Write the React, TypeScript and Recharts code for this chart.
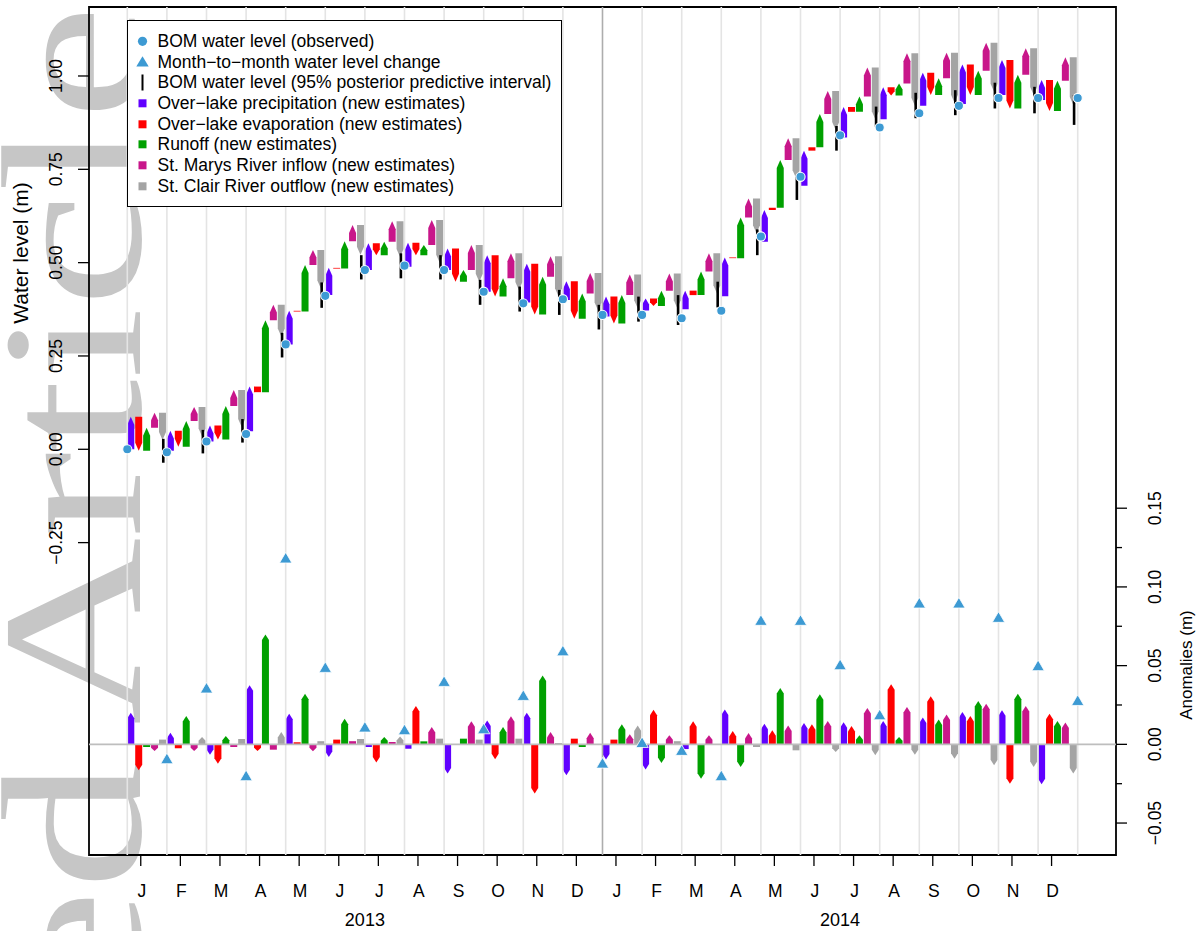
import React from "react";
import {
  Bar,
  ComposedChart,
  ReferenceArea,
  ReferenceLine,
  Scatter,
  XAxis,
  YAxis,
} from "recharts";

const FONT = '"Liberation Sans", Arial, Helvetica, sans-serif';

const monthLetters = ["J", "F", "M", "A", "M", "J", "J", "A", "S", "O", "N", "D", "J", "F", "M", "A", "M", "J", "J", "A", "S", "O", "N", "D"];
const yearLabels = ["2013", "2014"];
const leftTicks = [-0.25, 0, 0.25, 0.5, 0.75, 1];
const rightTicks = [-0.05, -0.025, 0, 0.025, 0.05, 0.075, 0.1, 0.125, 0.15];

// BOM observed water level at the start of each month, Jan 2013 .. Jan 2015 (m)
const observedLevel = [0.0, -0.008, 0.021, 0.041, 0.281, 0.411, 0.48, 0.492, 0.48, 0.422, 0.391, 0.402, 0.36, 0.36, 0.351, 0.371, 0.57, 0.73, 0.841, 0.862, 0.9, 0.92, 0.941, 0.941, 0.941];
// level each month's water balance starts from
const chainStart = [0.0, -0.004, 0.021, 0.048, 0.281, 0.413, 0.48, 0.489, 0.48, 0.422, 0.393, 0.4, 0.356, 0.372, 0.375, 0.41, 0.556, 0.706, 0.835, 0.884, 0.92, 0.925, 0.949, 0.936];

// monthly contributions to the lake level (m)
const precipitation = [0.087, 0.054, 0.043, 0.12, 0.09, 0.073, 0.072, 0.064, 0.058, 0.098, 0.104, 0.05, 0.053, 0.032, 0.05, 0.104, 0.085, 0.094, 0.082, 0.086, 0.089, 0.106, 0.094, 0.053];
const evaporation = [-0.091, -0.043, -0.038, -0.015, -0.002, -0.002, -0.032, -0.033, -0.089, -0.111, -0.136, -0.1, -0.072, -0.02, -0.012, -0.002, 0.006, 0.009, -0.013, -0.022, -0.06, -0.082, -0.13, -0.083];
const runoff = [0.062, 0.069, 0.09, 0.193, 0.125, 0.073, 0.036, 0.027, 0.031, 0.049, 0.101, 0.067, 0.076, 0.041, 0.063, 0.109, 0.128, 0.089, 0.041, 0.032, 0.045, 0.065, 0.09, 0.081];
const stMarysInflow = [0.04, 0.037, 0.043, 0.041, 0.04, 0.044, 0.055, 0.067, 0.067, 0.067, 0.055, 0.055, 0.055, 0.046, 0.049, 0.051, 0.058, 0.062, 0.078, 0.081, 0.068, 0.075, 0.071, 0.063];
const stClairOutflow = [-0.073, -0.079, -0.099, -0.085, -0.103, -0.08, -0.096, -0.114, -0.098, -0.098, -0.107, -0.1, -0.09, -0.093, -0.107, -0.093, -0.107, -0.105, -0.139, -0.141, -0.134, -0.131, -0.125, -0.128];

// 95% posterior predictive interval of the end-of-month level
const intervalLow = [-0.036, -0.011, 0.018, 0.246, 0.379, 0.455, 0.458, 0.455, 0.387, 0.369, 0.36, 0.321, 0.342, 0.333, 0.38, 0.52, 0.668, 0.8, 0.864, 0.887, 0.895, 0.913, 0.9, 0.869];
const intervalHigh = [0.028, 0.052, 0.081, 0.312, 0.447, 0.52, 0.525, 0.52, 0.454, 0.436, 0.427, 0.387, 0.409, 0.413, 0.449, 0.589, 0.73, 0.866, 0.918, 0.955, 0.962, 0.982, 0.971, 0.949];

// anomalies (m)
const anomPrecipitation = [0.02, 0.0074, -0.0066, 0.0375, 0.0195, -0.008, -0.0017, -0.0028, -0.0186, 0.0152, 0.02, -0.0197, -0.0097, -0.016, -0.003, 0.0222, 0.0131, 0.0136, 0.014, 0.0148, 0.017, 0.0205, 0.0216, -0.0254];
const anomEvaporation = [-0.0165, -0.0025, -0.0123, -0.0042, 0.0013, 0.003, -0.0116, 0.0244, 0, -0.0095, -0.0313, 0.0036, 0.003, 0.022, 0.0146, 0.0085, 0.0089, 0.0127, 0.0116, 0.0381, 0.0305, 0.018, -0.025, 0.0195];
const anomRunoff = [-0.0017, 0.018, 0.0053, 0.0697, 0.0322, 0.0163, 0.0047, 0.0019, 0.0036, 0.011, 0.0438, -0.0017, 0.0127, -0.0119, -0.0218, -0.0144, 0.0358, 0.0318, 0.0057, 0.0047, 0.0157, 0.0275, 0.0322, 0.0148];
const anomInflow = [-0.0042, -0.0042, -0.0017, -0.0034, -0.0044, 0.002, 0.0015, 0.011, 0.0146, 0.0178, 0.0078, 0.0074, 0.0064, 0.0057, 0.0057, 0.0072, 0.012, 0.0148, 0.0231, 0.0237, 0.019, 0.0258, 0.0244, 0.0138];
const anomOutflow = [0.003, 0.0047, 0.0034, 0.0078, 0.002, 0.0034, 0.005, 0.0036, 0.003, 0.0036, 0.0008, 0, 0.012, 0.002, 0, -0.0017, -0.0038, -0.0049, -0.007, -0.0066, -0.0091, -0.0133, -0.0144, -0.0186];
// month-to-month water level change, at the end of each month
const levelChange = [-0.0095, 0.0354, -0.0203, 0.118, 0.0485, 0.0106, 0.0089, 0.0396, 0.0095, 0.0307, 0.059, -0.0123, 0.0008, -0.0042, -0.0203, 0.0784, 0.0784, 0.0502, 0.0184, 0.0894, 0.0894, 0.0803, 0.0496, 0.0275];

const COLORS = ["#6000FF", "#FF0000", "#00A000", "#C8168A", "#A4A4A4"];
const BLUE = "#3D9AD3";

// axis ranges
const XMIN = -0.967;
const XMAX = 24.967;
const LMIN = -1.0868;
const LMAX = 1.1848;
const RMIN = -0.0703;
const RMAX = 0.4684;
const MONTH_SHIFT = 0.34;

const components = [precipitation, evaporation, runoff, stMarysInflow, stClairOutflow];
const anomalies = [anomPrecipitation, anomEvaporation, anomRunoff, anomInflow, anomOutflow];

const rows: any[] = [];
chainStart.forEach((start, k) => {
  let level = start;
  components.forEach((series, j) => {
    const next = level + series[k];
    const a = anomalies[j][k];
    rows.push({
      x: k + 0.1 + 0.2 * j,
      top: [Math.min(level, next), Math.max(level, next)],
      topUp: next >= level,
      bot: [Math.min(0, a), Math.max(0, a)],
      botUp: a >= 0,
      ci: j === 4 ? [intervalLow[k], intervalHigh[k]] : undefined,
      color: COLORS[j],
    });
    level = next;
  });
});

const obsPoints = observedLevel.map((v, k) => ({ x: k, level: v }));
const changePoints = levelChange.map((v, i) => ({ x: i + 1, change: v }));
const gridPositions = observedLevel.map((_, k) => k);
const monthTicks = monthLetters.map((_, k) => k + MONTH_SHIFT);

const fmt = (v: number) => (v < 0 ? "\u2212" : "") + Math.abs(v).toFixed(2);

const makeArrow = (dirKey: string, maxTip: number) => (props: any) => {
  const { x, y, width, height, payload } = props;
  if (!payload || !isFinite(y) || !isFinite(height) || Math.abs(height) < 0.01) return null;
  const top = height < 0 ? y + height : y;
  const h = Math.abs(height);
  const b = top + h;
  const l = x;
  const r = x + width;
  const m = x + width / 2;
  const t = h >= 6 ? Math.min(maxTip, h * 0.5) : 0;
  const pts = payload[dirKey]
    ? [[l, b], [l, top + t], [m, top], [r, top + t], [r, b]]
    : [[l, top], [r, top], [r, b - t], [m, b], [l, b - t]];
  return <polygon points={pts.map((p) => p.join(",")).join(" ")} fill={payload.color} />;
};

const TopArrow = makeArrow("topUp", 8);
const BotArrow = makeArrow("botUp", 5.5);

const CiLine = (props: any) => {
  const { x, y, width, height, payload } = props;
  if (!payload || !payload.ci || !isFinite(y) || !isFinite(height)) return null;
  const top = height < 0 ? y + height : y;
  return <rect x={x} y={top} width={width} height={Math.abs(height)} fill="#000" />;
};

const ObsDot = (p: any) => <circle cx={p.cx} cy={p.cy} r={4.6} fill={BLUE} stroke="#fff" strokeWidth={1.1} />;
const ChangeTri = (p: any) => (
  <path d={`M${p.cx},${p.cy - 6.2} L${p.cx + 6.2},${p.cy + 4.4} L${p.cx - 6.2},${p.cy + 4.4} Z`} fill={BLUE} stroke="#fff" strokeWidth={0.8} />
);

const LeftTick = ({ x, y, payload }: any) => (
  <g>
    <line x1={x - 11} x2={x} y1={y} y2={y} stroke="#000" strokeWidth={1.3} />
    <text x={x - 33} y={y} transform={`rotate(-90 ${x - 33} ${y})`} textAnchor="middle" dominantBaseline="central" fontSize={17.5} fontFamily={FONT} fill="#000">
      {fmt(payload.value)}
    </text>
  </g>
);

const RightTick = ({ x, y, payload }: any) => {
  const major = Math.abs(Math.round(payload.value * 20) - payload.value * 20) < 1e-6;
  return (
    <g>
      <line x1={x} x2={x + (major ? 11 : 6)} y1={y} y2={y} stroke="#000" strokeWidth={1.3} />
      {major && (
        <text x={x + 39} y={y} transform={`rotate(-90 ${x + 39} ${y})`} textAnchor="middle" dominantBaseline="central" fontSize={17.5} fontFamily={FONT} fill="#000">
          {fmt(payload.value)}
        </text>
      )}
    </g>
  );
};

const MonthTick = ({ x, y, payload }: any) => (
  <g>
    <line x1={x} x2={x} y1={y} y2={y + 11} stroke="#000" strokeWidth={1.3} />
    <text x={x + 1} y={y + 36} textAnchor="middle" dominantBaseline="central" fontSize={17.5} fontFamily={FONT} fill="#000">
      {monthLetters[Math.round(payload.value - MONTH_SHIFT)]}
    </text>
  </g>
);

const YearTick = ({ x, y, payload }: any) => (
  <text x={x} y={y + 15} textAnchor="middle" dominantBaseline="central" fontSize={18} fontFamily={FONT} fill="#000">
    {yearLabels[Math.round((payload.value - 6) / 12)]}
  </text>
);

const legendItems = [
  { label: "BOM water level (observed)", kind: "dot", color: BLUE },
  { label: "Month\u2212to\u2212month water level change", kind: "tri", color: BLUE },
  { label: "BOM water level (95% posterior predictive interval)", kind: "bar", color: "#000" },
  { label: "Over\u2212lake precipitation (new estimates)", kind: "sq", color: COLORS[0] },
  { label: "Over\u2212lake evaporation (new estimates)", kind: "sq", color: COLORS[1] },
  { label: "Runoff (new estimates)", kind: "sq", color: COLORS[2] },
  { label: "St. Marys River inflow (new estimates)", kind: "sq", color: COLORS[3] },
  { label: "St. Clair River outflow (new estimates)", kind: "sq", color: COLORS[4] },
];

function LegendSymbol({ kind, color }: { kind: string; color: string }) {
  return (
    <svg width={29.5} height={20.7} style={{ flex: "none" }}>
      {kind === "dot" && <circle cx={14.5} cy={10.3} r={4.6} fill={color} />}
      {kind === "tri" && <path d="M14.5,4.2 L20.7,14.6 L8.3,14.6 Z" fill={color} />}
      {kind === "bar" && <rect x={13.5} y={2.5} width={2} height={16} fill={color} />}
      {kind === "sq" && <rect x={10.5} y={6.3} width={8} height={8} fill={color} />}
    </svg>
  );
}

export default function App() {
  return (
    <div style={{ position: "absolute", left: 0, top: 0, width: 1198, height: 931, background: "#fff", overflow: "hidden" }}>
      <svg width={1198} height={931} style={{ position: "absolute", left: 0, top: 0 }}>
        <g transform="translate(140,725) rotate(-90)">
          <text x={0} y={0} fontFamily='"Liberation Serif", "Times New Roman", serif' fontSize={200} fill="#C6C6C6" textLength={720} lengthAdjust="spacingAndGlyphs">
            Article
          </text>
        </g>
        <g transform="translate(140,1739) rotate(-90)">
          <text x={0} y={0} fontFamily='"Liberation Serif", "Times New Roman", serif' fontSize={200} fill="#C6C6C6" textLength={979} lengthAdjust="spacingAndGlyphs">
            Accepted
          </text>
        </g>
        <text x={20} y={253} transform="rotate(-90 20 253)" textAnchor="middle" dominantBaseline="central" fontSize={21} fontFamily={FONT} fill="#000">
          Water level (m)
        </text>
        <text x={1186} y={665} transform="rotate(-90 1186 665)" textAnchor="middle" dominantBaseline="central" fontSize={17} fontFamily={FONT} fill="#000">
          Anomalies (m)
        </text>
      </svg>

      <div style={{ position: "absolute", left: 0, top: 0 }}>
        <ComposedChart width={1198} height={931} data={rows} margin={{ top: 7, right: 0, bottom: 0, left: 0 }}>
          <XAxis xAxisId="a_month" type="number" dataKey="x" domain={[XMIN, XMAX]} allowDataOverflow ticks={monthTicks} interval={0} height={50} axisLine={false} tickLine={false} tickSize={0} tickMargin={0} tick={(p: any) => <MonthTick {...p} />} />
          <XAxis xAxisId="b_year" type="number" dataKey="x" domain={[XMIN, XMAX]} allowDataOverflow ticks={[6, 18]} interval={0} height={26} axisLine={false} tickLine={false} tickSize={0} tickMargin={0} tick={(p: any) => <YearTick {...p} />} />
          <XAxis xAxisId="h_top" type="number" dataKey="x" domain={[XMIN, XMAX]} allowDataOverflow hide height={0} />
          <XAxis xAxisId="h_bot" type="number" dataKey="x" domain={[XMIN, XMAX]} allowDataOverflow hide height={0} />
          <XAxis xAxisId="h_ci" type="number" dataKey="x" domain={[XMIN, XMAX]} allowDataOverflow hide height={0} />
          <XAxis xAxisId="h_pts" type="number" dataKey="x" domain={[XMIN, XMAX]} allowDataOverflow hide height={0} />
          <YAxis yAxisId="L" orientation="left" type="number" domain={[LMIN, LMAX]} allowDataOverflow ticks={leftTicks} interval={0} width={89} axisLine={false} tickLine={false} tickSize={0} tickMargin={0} tick={(p: any) => <LeftTick {...p} />} />
          <YAxis yAxisId="R" orientation="right" type="number" domain={[RMIN, RMAX]} allowDataOverflow ticks={rightTicks} interval={0} width={82} axisLine={false} tickLine={false} tickSize={0} tickMargin={0} tick={(p: any) => <RightTick {...p} />} />

          {gridPositions.map((k) => (
            <ReferenceLine key={k} xAxisId="a_month" yAxisId="L" x={k} stroke={k === 12 ? "#ADADAD" : "#E4E4E4"} strokeWidth={1.6} />
          ))}
          <ReferenceLine xAxisId="a_month" yAxisId="R" y={0} stroke="#BEBEBE" strokeWidth={1.6} />

          <Bar xAxisId="h_top" yAxisId="L" dataKey="top" barSize={7} shape={TopArrow} isAnimationActive={false} />
          <Bar xAxisId="h_bot" yAxisId="R" dataKey="bot" barSize={7} shape={BotArrow} isAnimationActive={false} />
          <Bar xAxisId="h_ci" yAxisId="L" dataKey="ci" barSize={2.6} shape={CiLine} isAnimationActive={false} />
          <Scatter xAxisId="h_pts" yAxisId="L" data={obsPoints} dataKey="level" shape={ObsDot} isAnimationActive={false} />
          <Scatter xAxisId="h_pts" yAxisId="R" data={changePoints} dataKey="change" shape={ChangeTri} isAnimationActive={false} />

          <ReferenceArea xAxisId="a_month" yAxisId="L" x1={XMIN} x2={XMAX} y1={LMIN} y2={LMAX} fill="none" stroke="#000" strokeWidth={1.8} ifOverflow="visible" />
        </ComposedChart>
      </div>

      <div
        style={{
          position: "absolute",
          left: 127,
          top: 20,
          width: 435,
          height: 187,
          border: "1.5px solid #000",
          background: "#fff",
          boxSizing: "border-box",
          paddingTop: 10,
          fontFamily: FONT,
          fontSize: 17.5,
          color: "#000",
        }}
      >
        {legendItems.map((item) => (
          <div key={item.label} style={{ height: 20.7, display: "flex", alignItems: "center", whiteSpace: "nowrap" }}>
            <LegendSymbol kind={item.kind} color={item.color} />
            <span style={{ lineHeight: "20.7px" }}>{item.label}</span>
          </div>
        ))}
      </div>
    </div>
  );
}
